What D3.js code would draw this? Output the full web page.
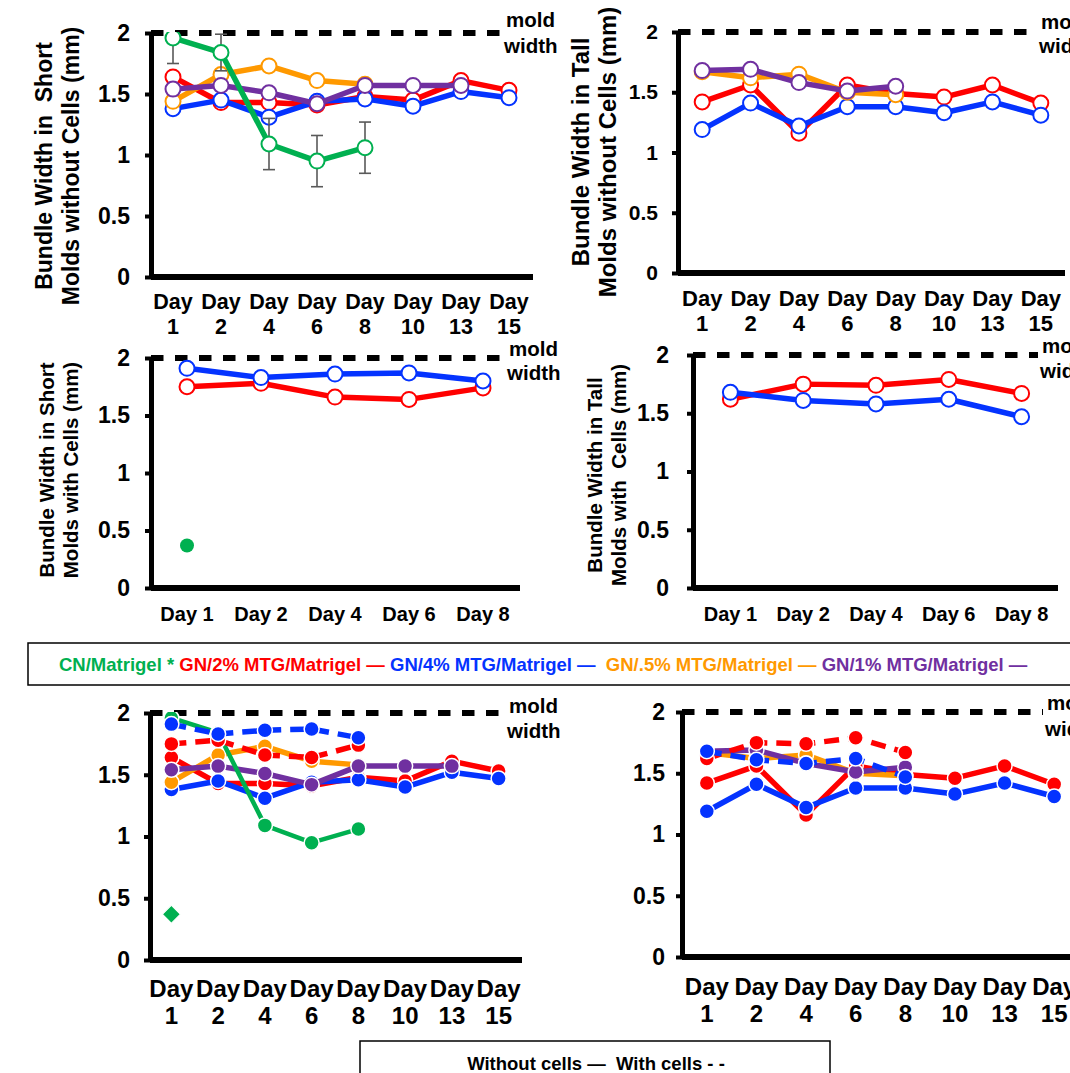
<!DOCTYPE html>
<html>
<head>
<meta charset="utf-8">
<script src="https://cdn.jsdelivr.net/npm/d3@7"></script>
<style>
  body { margin: 0; background: #fff; }
  svg { display: block; }
  text { font-family: "Liberation Sans", Arial, Helvetica, sans-serif; font-weight: bold; }
</style>
</head>
<body>
<script>
const W = 1070, H = 1073;

// categories
const daysAll = ["Day 1", "Day 2", "Day 4", "Day 6", "Day 8", "Day 10", "Day 13", "Day 15"];
const daysCells = ["Day 1", "Day 2", "Day 4", "Day 6", "Day 8"];
const yTicks = [0, 0.5, 1, 1.5, 2];
const moldWidth = 2;

// short molds, without cells
const shortCN = [1.96, 1.84, 1.09, 0.95, 1.06];
const shortCNErr = [0.21, 0.15, 0.21, 0.21, 0.21];
const short2 = [1.64, 1.43, 1.43, 1.41, 1.48, 1.45, 1.61, 1.53];
const short4 = [1.38, 1.45, 1.31, 1.44, 1.46, 1.40, 1.52, 1.47];
const short05 = [1.44, 1.66, 1.73, 1.61, 1.58];
const short1 = [1.54, 1.57, 1.51, 1.42, 1.57, 1.57, 1.57];

// tall molds, without cells
const tall2 = [1.42, 1.56, 1.16, 1.56, 1.49, 1.46, 1.56, 1.41];
const tall4 = [1.19, 1.41, 1.22, 1.38, 1.38, 1.33, 1.42, 1.31];
const tall05 = [1.67, 1.62, 1.65, 1.50, 1.48];
const tall1 = [1.68, 1.69, 1.58, 1.51, 1.55];

// short molds, with cells
const shortCellsCN = [0.37];
const shortCells2 = [1.75, 1.78, 1.66, 1.64, 1.74];
const shortCells4 = [1.91, 1.83, 1.86, 1.87, 1.80];

// tall molds, with cells
const tallCells2 = [1.62, 1.75, 1.74, 1.79, 1.67];
const tallCells4 = [1.68, 1.61, 1.58, 1.62, 1.47];

const C = { cn: "#00B050", g2: "#FF0000", g4: "#0433FF", g05: "#FF9900", g1: "#7030A0" };

const svg = d3.select("body").append("svg")
    .attr("width", W)
    .attr("height", H)
    .attr("viewBox", [0, 0, W, H]);

function drawPanel(o) {
    const g = svg.append("g");
    const x = d3.scaleBand().domain(o.cats).range(o.xr);
    const cx = d => x(d) + x.bandwidth() / 2;
    const y = d3.scaleLinear().domain([0, 2]).range([o.y0, o.y2]);

    const clipId = "clip-" + o.id;
    g.append("clipPath").attr("id", clipId)
        .append("rect")
        .attr("x", o.axisX).attr("y", o.y2 - 1)
        .attr("width", W).attr("height", o.y0 - o.y2 + 1);

    // mold width reference line
    g.append("line")
        .attr("x1", o.axisX).attr("x2", o.dashEnd)
        .attr("y1", y(moldWidth)).attr("y2", y(moldWidth))
        .attr("stroke", "#000").attr("stroke-width", 6)
        .attr("stroke-dasharray", "12.5,11.5");
    g.append("text").attr("x", o.mold[0]).attr("y", o.mold[1])
        .attr("font-size", 20.5).text("mold");
    g.append("text").attr("x", o.mold[0] - 2).attr("y", o.mold[2])
        .attr("font-size", 20.5).text("width");

    // y axis
    const ya = g.append("g")
        .attr("transform", `translate(${o.axisX},0)`)
        .call(d3.axisLeft(y).tickValues(yTicks).tickFormat(d3.format(""))
            .tickSize(6).tickSizeOuter(0).tickPadding(o.yGap - 6));
    ya.attr("font-family", null).attr("font-size", o.yFont);
    ya.select(".domain").attr("stroke-width", 5);
    ya.selectAll(".tick line").attr("stroke-width", 4);
    ya.selectAll(".tick text").attr("fill", "#000");

    // x axis
    const xa = g.append("g")
        .attr("transform", `translate(0,${o.y0})`)
        .call(d3.axisBottom(x).tickSize(0).tickSizeOuter(0));
    xa.attr("font-family", null).attr("font-size", o.xFont);
    xa.select(".domain").attr("stroke-width", 6).attr("d", `M${o.axisX},0H${o.xr[1]}`);
    xa.selectAll(".tick text").each(function (d) {
        const t = d3.select(this).text("").attr("dy", null).attr("fill", "#000");
        if (o.twoLine) {
            const parts = d.split(" ");
            t.attr("y", null);
            t.append("tspan").attr("x", 0).attr("y", o.xLab[0] - o.y0).text(parts[0]);
            t.append("tspan").attr("x", 0).attr("y", o.xLab[1] - o.y0).text(parts[1]);
        } else {
            t.attr("y", o.xLab[0] - o.y0).text(d);
        }
    });

    // y titles
    (o.titles || []).forEach((line, i) => {
        g.append("text")
            .attr("transform", `translate(${o.titleX[i]},${o.titleY}) rotate(-90)`)
            .attr("text-anchor", "middle")
            .attr("dominant-baseline", "middle")
            .attr("font-size", o.titleFont)
            .style("white-space", "pre")
            .text(line);
    });

    const plot = g.append("g").attr("clip-path", `url(#${clipId})`);

    o.series.forEach(s => {
        const cats = s.cats || o.cats;
        const pts = s.values.map((v, i) => ({ c: cats[i], v, e: s.err ? s.err[i] : 0 }));

        if (s.err) {
            const eb = plot.append("g").attr("stroke", "#595959").attr("stroke-width", 1.6);
            pts.forEach(p => {
                const px = cx(p.c);
                eb.append("line").attr("x1", px).attr("x2", px)
                    .attr("y1", y(p.v - p.e)).attr("y2", y(p.v + p.e));
                [p.v - p.e, p.v + p.e].forEach(yy => {
                    eb.append("line").attr("x1", px - 6).attr("x2", px + 6)
                        .attr("y1", y(yy)).attr("y2", y(yy));
                });
            });
        }

        if (s.line !== false) {
            plot.append("path")
                .datum(pts)
                .attr("fill", "none")
                .attr("stroke", s.color)
                .attr("stroke-width", s.width || 5.5)
                .attr("stroke-linejoin", "round")
                .attr("stroke-dasharray", s.dashed ? "15,9" : null)
                .attr("d", d3.line().x(p => cx(p.c)).y(p => y(p.v)));
        }

        const mk = plot.append("g");
        pts.forEach(p => {
            if (s.marker === "diamond") {
                mk.append("path")
                    .attr("d", d3.symbol(d3.symbolSquare, 160)())
                    .attr("transform", `translate(${cx(p.c)},${y(p.v)}) rotate(45)`)
                    .attr("fill", s.color).attr("stroke", "#fff").attr("stroke-width", 1);
            } else if (s.marker === "dot") {
                mk.append("circle").attr("cx", cx(p.c)).attr("cy", y(p.v)).attr("r", 7)
                    .attr("fill", s.color);
            } else if (o.filled) {
                mk.append("circle").attr("cx", cx(p.c)).attr("cy", y(p.v)).attr("r", 7.5)
                    .attr("fill", s.color).attr("stroke", "#fff").attr("stroke-width", 1.5);
            } else {
                mk.append("circle").attr("cx", cx(p.c)).attr("cy", y(p.v)).attr("r", 7.5)
                    .attr("fill", "#fff").attr("stroke", s.color).attr("stroke-width", 2);
            }
        });
    });
}

// top left: short molds without cells
drawPanel({
    id: "p1", axisX: 151, xr: [149, 533], y0: 277, y2: 33, cats: daysAll,
    twoLine: true, xLab: [309, 334], xFont: 21.5, yFont: 23, yGap: 21,
    titles: ["Bundle Width in  Short", "Molds without Cells (mm)"], titleX: [46, 73], titleY: 166, titleFont: 23,
    dashEnd: 504, mold: [506, 27, 53],
    series: [
        { values: short2, color: C.g2 },
        { values: short4, color: C.g4 },
        { values: short05, color: C.g05 },
        { values: short1, color: C.g1 },
        { values: shortCN, color: C.cn, err: shortCNErr },
    ],
});

// top right: tall molds without cells
drawPanel({
    id: "p2", axisX: 678, xr: [678, 1065], y0: 273, y2: 32, cats: daysAll,
    twoLine: true, xLab: [306, 331], xFont: 22, yFont: 21, yGap: 20,
    titles: ["Bundle Width in Tall", "Molds without Cells (mm)"], titleX: [583, 610], titleY: 152, titleFont: 24,
    dashEnd: 1038, mold: [1041, 29, 53],
    series: [
        { values: tall2, color: C.g2 },
        { values: tall4, color: C.g4 },
        { values: tall05, color: C.g05 },
        { values: tall1, color: C.g1 },
    ],
});

// middle left: short molds with cells
drawPanel({
    id: "p3", axisX: 151, xr: [150, 520], y0: 588, y2: 358, cats: daysCells,
    twoLine: false, xLab: [621], xFont: 20, yFont: 23, yGap: 21,
    titles: ["Bundle Width in Short", "Molds with Cells (mm)"], titleX: [49, 73], titleY: 470, titleFont: 20.5,
    dashEnd: 507, mold: [509, 356, 380],
    series: [
        { values: shortCells2, color: C.g2 },
        { values: shortCells4, color: C.g4 },
        { values: shortCellsCN, color: C.cn, line: false, marker: "dot" },
    ],
});

// middle right: tall molds with cells
drawPanel({
    id: "p4", axisX: 693, xr: [694, 1058], y0: 588, y2: 355, cats: daysCells,
    twoLine: false, xLab: [621], xFont: 20, yFont: 23, yGap: 24,
    titles: ["Bundle Width in Tall", "Molds with  Cells (mm)"], titleX: [597, 621], titleY: 475, titleFont: 20.5,
    dashEnd: 1038, mold: [1042, 353, 378],
    series: [
        { values: tallCells2, color: C.g2 },
        { values: tallCells4, color: C.g4 },
    ],
});

// bottom left: short molds combined
drawPanel({
    id: "p5", axisX: 150, xr: [148, 522], y0: 960, y2: 713, cats: daysAll, filled: true,
    twoLine: true, xLab: [997, 1024], xFont: 24, yFont: 23, yGap: 20,
    dashEnd: 507, mold: [509, 713, 738],
    series: [
        { values: short2, color: C.g2 },
        { values: short4, color: C.g4 },
        { values: short05, color: C.g05 },
        { values: short1, color: C.g1 },
        { values: shortCN, color: C.cn, width: 4.5 },
        { values: shortCells2, color: C.g2, cats: daysCells, dashed: true },
        { values: shortCells4, color: C.g4, cats: daysCells, dashed: true },
        { values: shortCellsCN, color: C.cn, cats: daysCells, line: false, marker: "diamond" },
    ],
});

// bottom right: tall molds combined
drawPanel({
    id: "p6", axisX: 682, xr: [682, 1079], y0: 957, y2: 712, cats: daysAll, filled: true,
    twoLine: true, xLab: [995, 1022], xFont: 24, yFont: 23, yGap: 17,
    dashEnd: 1043, mold: [1047, 710, 736],
    series: [
        { values: tall2, color: C.g2 },
        { values: tall4, color: C.g4 },
        { values: tall05, color: C.g05 },
        { values: tall1, color: C.g1 },
        { values: tallCells2, color: C.g2, cats: daysCells, dashed: true },
        { values: tallCells4, color: C.g4, cats: daysCells, dashed: true },
    ],
});

// series legend
const legendItems = [
    { text: "CN/Matrigel * ", color: C.cn },
    { text: "GN/2% MTG/Matrigel — ", color: C.g2 },
    { text: "GN/4% MTG/Matrigel —  ", color: C.g4 },
    { text: "GN/.5% MTG/Matrigel — ", color: C.g05 },
    { text: "GN/1% MTG/Matrigel —", color: C.g1 },
];
svg.append("rect").attr("x", 28).attr("y", 643).attr("width", 1060).attr("height", 42)
    .attr("fill", "#fff").attr("stroke", "#000").attr("stroke-width", 1.5);
const lt = svg.append("text").attr("x", 59).attr("y", 671).attr("font-size", 18.5)
    .style("white-space", "pre");
legendItems.forEach(d => lt.append("tspan").attr("fill", d.color).text(d.text));

// line style legend
svg.append("rect").attr("x", 360).attr("y", 1041).attr("width", 470).attr("height", 45)
    .attr("fill", "#fff").attr("stroke", "#000").attr("stroke-width", 1.5);
svg.append("text").attr("x", 596).attr("y", 1070).attr("text-anchor", "middle")
    .attr("font-size", 18.5).style("white-space", "pre")
    .text("Without cells —  With cells - -");
</script>
</body>
</html>
